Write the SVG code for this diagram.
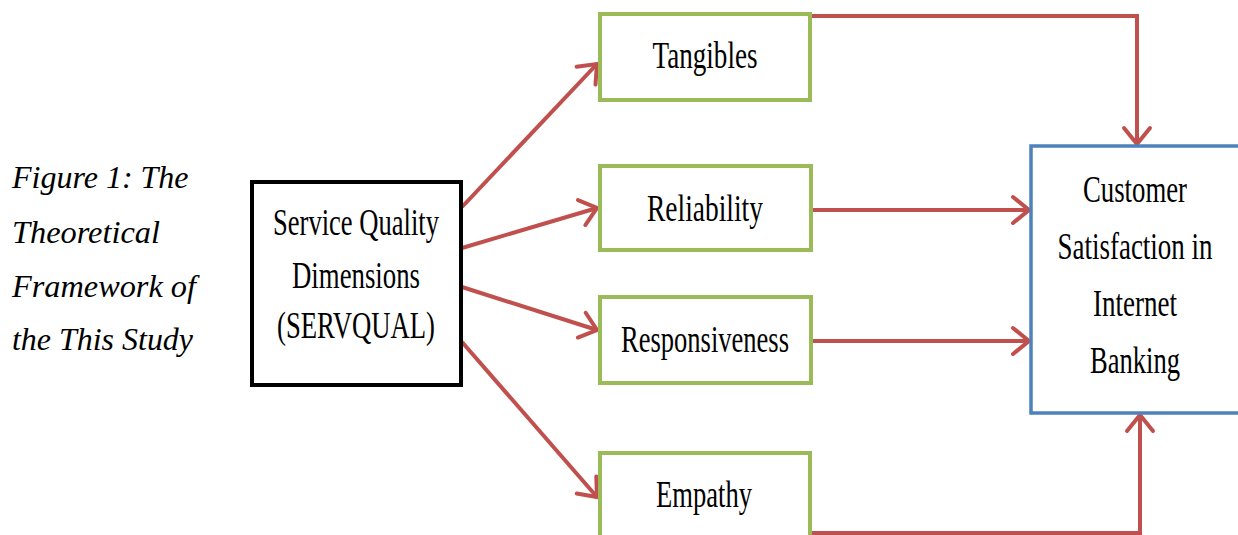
<svg xmlns="http://www.w3.org/2000/svg" width="1238" height="535" viewBox="0 0 1238 535">
<style>
.box{fill:#fff;stroke-width:4}
.svc{stroke:#000}
.dim{stroke:#9BBB59}
.out{stroke:#4F81BD;stroke-width:3.5}
.t{font-family:"Liberation Serif","Times New Roman",serif;font-size:38px;fill:#000;text-anchor:middle}
.cap{font-family:"Liberation Serif","Times New Roman",serif;font-size:32px;font-style:italic;fill:#000}
.c{fill:none;stroke:#C0504D;stroke-width:4;marker-end:url(#ah)}
</style>
<defs>
<marker id="ah" markerUnits="userSpaceOnUse" markerWidth="40" markerHeight="40" refX="0" refY="0" viewBox="-20 -20 40 40" orient="auto" overflow="visible">
<path d="M-16,-13 L0,0 L-16,13" fill="none" stroke="#C0504D" stroke-width="4" stroke-linecap="round" stroke-linejoin="miter"/>
</marker>
</defs>
<rect width="1238" height="535" fill="#fff"/>
<g id="caption">
<text class="cap" x="12" y="188">Figure 1: The</text>
<text class="cap" x="12" y="243" textLength="148" lengthAdjust="spacingAndGlyphs">Theoretical</text>
<text class="cap" x="12" y="297" textLength="184" lengthAdjust="spacingAndGlyphs">Framework of</text>
<text class="cap" x="12" y="350" textLength="181" lengthAdjust="spacingAndGlyphs">the This Study</text>
</g>
<g id="connectors">
<path class="c" d="M810,16 H1137 V144"/>
<path class="c" d="M811,210 H1029"/>
<path class="c" d="M811,341 H1029"/>
<path class="c" d="M810,533 H1140 V415"/>
<path class="c" d="M462,207 L597,64"/>
<path class="c" d="M462,248 L597,208"/>
<path class="c" d="M462,287 L597,330"/>
<path class="c" d="M462,342 L597,497"/>
</g>
<g id="servqual">
<rect class="box svc" x="252" y="182" width="209" height="203"/>
<text class="t" x="356" y="235" textLength="166" lengthAdjust="spacingAndGlyphs">Service Quality</text>
<text class="t" x="356" y="288" textLength="128" lengthAdjust="spacingAndGlyphs">Dimensions</text>
<text class="t" x="356" y="338" textLength="158" lengthAdjust="spacingAndGlyphs">(SERVQUAL)</text>
</g>
<g id="tangibles">
<rect class="box dim" x="600" y="14" width="210" height="86"/>
<text class="t" x="705" y="68" textLength="105" lengthAdjust="spacingAndGlyphs">Tangibles</text>
</g>
<g id="reliability">
<rect class="box dim" x="600" y="166" width="211" height="84"/>
<text class="t" x="705" y="221" textLength="116" lengthAdjust="spacingAndGlyphs">Reliability</text>
</g>
<g id="responsiveness">
<rect class="box dim" x="600" y="297" width="211" height="86"/>
<text class="t" x="705" y="352" textLength="168" lengthAdjust="spacingAndGlyphs">Responsiveness</text>
</g>
<g id="empathy">
<rect class="box dim" x="600" y="453" width="210" height="100"/>
<text class="t" x="704" y="507" textLength="96" lengthAdjust="spacingAndGlyphs">Empathy</text>
</g>
<g id="satisfaction">
<rect class="box out" x="1031" y="146" width="220" height="267"/>
<text class="t" x="1135" y="202" textLength="104" lengthAdjust="spacingAndGlyphs">Customer</text>
<text class="t" x="1135" y="259" textLength="155" lengthAdjust="spacingAndGlyphs">Satisfaction in</text>
<text class="t" x="1135" y="316" textLength="84" lengthAdjust="spacingAndGlyphs">Internet</text>
<text class="t" x="1135" y="373" textLength="90" lengthAdjust="spacingAndGlyphs">Banking</text>
</g>
</svg>
